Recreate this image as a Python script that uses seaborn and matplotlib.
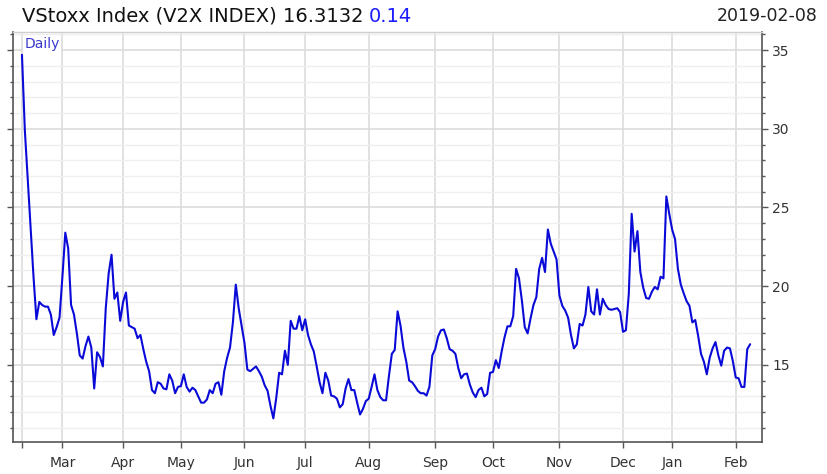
import numpy as np
import pandas as pd
import seaborn as sns
import matplotlib.pyplot as plt
from matplotlib.ticker import MultipleLocator

# Eurex trading days, 2018-02-09 .. 2019-02-08
holidays = ["2018-03-30", "2018-04-02", "2018-05-01", "2018-12-24",
            "2018-12-25", "2018-12-26", "2018-12-31", "2019-01-01"]
dates = pd.bdate_range("2018-02-09", "2019-02-08")
dates = dates[~dates.isin(pd.to_datetime(holidays))]

# daily closes, one list per month
feb18 = [34.7, 29.9, 26.8, 23.8, 20.6, 17.9, 19.0, 18.8, 18.7, 18.7, 18.2, 16.9, 17.4, 18.0]
mar18 = [20.6, 23.4, 22.4, 18.8, 18.2, 17.0, 15.6, 15.4, 16.2, 16.8, 16.1, 13.5, 15.8, 15.5,
         14.9, 18.6, 20.8, 22.0, 19.2, 19.6, 17.8]
apr18 = [19.0, 19.6, 17.5, 17.4, 17.3, 16.7, 16.9, 16.0, 15.2, 14.6, 13.4, 13.2, 13.9, 13.8,
         13.5, 13.45, 14.4, 14.0, 13.2, 13.6]
may18 = [13.65, 14.4, 13.6, 13.3, 13.55, 13.4, 13.0, 12.6, 12.6, 12.8, 13.4, 13.2, 13.8, 13.9,
         13.1, 14.6, 15.45, 16.1, 17.7, 20.1, 18.6, 17.5]
jun18 = [16.4, 14.7, 14.6, 14.75, 14.9, 14.6, 14.25, 13.7, 13.35, 12.4, 11.6, 12.9, 14.5, 14.4,
         15.9, 15.0, 17.8, 17.3, 17.3, 18.1, 17.2]
jul18 = [17.9, 16.9, 16.3, 15.85, 14.9, 13.9, 13.2, 14.5, 14.0, 13.05, 13.0, 12.85, 12.3, 12.5,
         13.5, 14.1, 13.4, 13.4, 12.6, 11.85, 12.2, 12.7]
aug18 = [12.85, 13.6, 14.4, 13.4, 12.95, 12.75, 12.75, 14.3, 15.7, 15.95, 18.4, 17.5, 16.1, 15.2,
         14.0, 13.9, 13.65, 13.35, 13.2, 13.2, 13.05, 13.6, 15.6]
sep18 = [16.0, 16.8, 17.2, 17.25, 16.7, 16.0, 15.9, 15.7, 14.8, 14.15, 14.4, 14.45, 13.75, 13.25,
         12.95, 13.4, 13.55, 13.0, 13.15, 14.5]
oct18 = [14.55, 15.3, 14.8, 15.85, 16.75, 17.45, 17.45, 18.1, 21.1, 20.5, 19.1, 17.4, 17.0, 17.95,
         18.8, 19.3, 21.1, 21.8, 20.9, 23.6, 22.7, 22.2, 21.7]
nov18 = [19.4, 18.75, 18.45, 18.0, 16.9, 16.05, 16.3, 17.6, 17.5, 18.2, 19.95, 18.4, 18.2, 19.8,
         18.2, 19.2, 18.8, 18.55, 18.5, 18.55, 18.6, 18.35]
dec18 = [17.1, 17.2, 19.5, 24.6, 22.2, 23.5, 20.9, 19.9, 19.25, 19.2, 19.65, 19.95, 19.8, 20.6,
         20.5, 25.7, 24.6]
jan19 = [23.6, 23.0, 21.1, 20.1, 19.55, 19.05, 18.75, 17.7, 17.85, 16.85, 15.7, 15.2, 14.4, 15.45,
         16.05, 16.45, 15.6, 14.95, 15.9, 16.1, 16.05, 15.25]
feb19 = [14.2, 14.15, 13.6, 13.6, 16.0, 16.3132]

values = feb18 + mar18 + apr18 + may18 + jun18 + jul18 + aug18 + sep18 + oct18 + nov18 + dec18 + jan19 + feb19
df = pd.DataFrame({"date": dates, "close": values})
df["i"] = np.arange(len(df))

month_start = df.groupby(df["date"].dt.to_period("M"))["i"].min()
tick_pos = [0] + list(month_start.values[1:])
tick_lab = [""] + [p.strftime("%b") for p in month_start.index[1:]]

sns.set_style("white")
plt.rcParams["font.family"] = ["DejaVu Sans"]

fig = plt.figure(figsize=(8.27, 4.74), dpi=100)
ax = fig.add_axes([13 / 827, 1 - 442 / 474, 749 / 827, 410 / 474])

sns.lineplot(data=df, x="i", y="close", ax=ax, color="#0a0ad8", linewidth=1.5, zorder=3)

ax.set_xlim(-3.1, 256.1)
ax.set_ylim(10.1, 36.15)
ax.set_xticks(tick_pos)
ax.set_xticklabels(tick_lab)
ax.yaxis.set_major_locator(MultipleLocator(5))
ax.yaxis.set_minor_locator(MultipleLocator(1))

ax.grid(which="major", axis="both", color="#dcdcdc", linewidth=1.2, zorder=0)
ax.grid(which="minor", axis="y", color="#efefef", linewidth=1.0, zorder=0)
ax.set_axisbelow(True)

ax.tick_params(axis="y", which="both", left=True, right=True, labelleft=False,
               labelright=True, direction="out", color="#555555", labelsize=10,
               labelcolor="#333333")
ax.tick_params(axis="y", which="major", length=4, width=1)
ax.tick_params(axis="y", which="minor", length=2.5, width=1)
ax.tick_params(axis="x", which="major", bottom=True, direction="out", length=4,
               width=1, color="#555555", labelsize=10, labelcolor="#333333", pad=6)

for side in ["left", "bottom", "right"]:
    ax.spines[side].set_color("#555555")
    ax.spines[side].set_linewidth(1.2)
ax.spines["top"].set_color("#cfcfcf")
ax.spines["top"].set_linewidth(1.0)

ax.set_xlabel("")
ax.set_ylabel("")

ax.text(0.015, 0.988, "Daily", transform=ax.transAxes, ha="left", va="top",
        fontsize=10, color="#3a3ad0", zorder=4,
        bbox=dict(facecolor="white", edgecolor="none", pad=1.0))

t1 = fig.text(22 / 827, 1 - 16 / 474, "VStoxx Index (V2X INDEX) 16.3132",
              fontsize=14, color="#111111", va="center", ha="left")
fig.canvas.draw()
bb = t1.get_window_extent()
fig.text((bb.x1 + 5) / 827, 1 - 16 / 474, "0.14", fontsize=14,
         color="#1a1aff", va="center", ha="left")
fig.text(818 / 827, 1 - 16 / 474, "2019-02-08", fontsize=12.5, color="#222222",
         va="center", ha="right")

fig.savefig("out.png", dpi=100)
plt.close(fig)
